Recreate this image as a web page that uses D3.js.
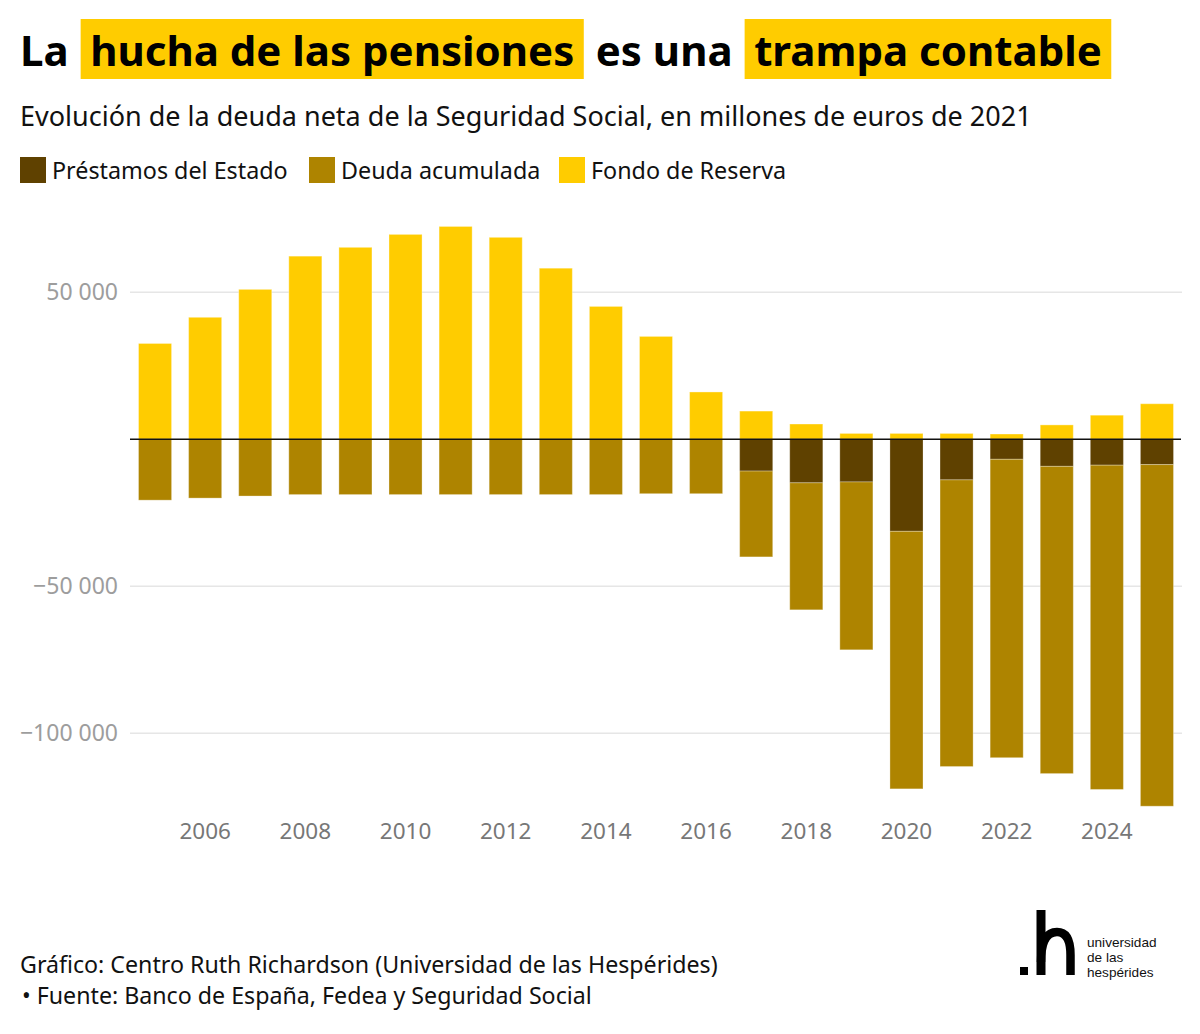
<!DOCTYPE html>
<html>
<head>
<meta charset="utf-8">
<script src="https://cdn.jsdelivr.net/npm/d3@7"></script>
<style>
  html, body { margin: 0; padding: 0; background: #fff; }
  svg { display: block; font-family: "Noto Sans", "Open Sans", sans-serif; }
</style>
</head>
<body>
<svg id="chart" width="1200" height="1034"></svg>
<script>
// ---------- DATA ----------
const years = [2005, 2006, 2007, 2008, 2009, 2010, 2011, 2012, 2013, 2014, 2015,
               2016, 2017, 2018, 2019, 2020, 2021, 2022, 2023, 2024, 2025];
// Fondo de Reserva (positive, millones de euros de 2021)
const fondoReserva = [32600, 41500, 51000, 62300, 65300, 69700, 72400, 68700, 58200, 45200, 35000,
                      16100, 9600, 5200, 2000, 2000, 2000, 1800, 4900, 8200, 12100];
// Préstamos del Estado (negative magnitude)
const prestamosEstado = [0, 0, 0, 0, 0, 0, 0, 0, 0, 0, 0,
                         0, 10800, 14800, 14500, 31300, 13800, 6800, 9200, 8800, 8600];
// Deuda acumulada (negative magnitude)
const deudaAcumulada = [20700, 20000, 19300, 18800, 18800, 18800, 18800, 18800, 18800, 18800, 18500,
                        18500, 29200, 43200, 57100, 87600, 97500, 101500, 104500, 110300, 116200];
const yTicks = [50000, -50000, -100000];
const xTickYears = [2006, 2008, 2010, 2012, 2014, 2016, 2018, 2020, 2022, 2024];
const seriesNames = ["Préstamos del Estado", "Deuda acumulada", "Fondo de Reserva"];
const seriesColors = ["#5f4100", "#ae8400", "#ffcc00"];

// ---------- SETUP ----------
const svg = d3.select("#chart");
const x = d3.scaleBand().domain(years).range([130, 1182]).paddingInner(0.34).paddingOuter(0.17);
const y = d3.scaleLinear().domain([-125000, 80000]).range([806.8, 204.1]);
const fmt = v => (v < 0 ? "\u2212" : "") + d3.format(",")(Math.abs(v)).replace(/,/g, " ");

// ---------- TITLE ----------
const titleParts = [
  {t: "La", hl: false},
  {t: "hucha de las pensiones", hl: true},
  {t: "es una", hl: false},
  {t: "trampa contable", hl: true}
];
const titleG = svg.append("g");
let cx = 20;
const pad = 9.5, gap = 12;
titleParts.forEach((p) => {
  const startX = cx + (p.hl ? pad : 0);
  const rect = p.hl ? titleG.append("rect") : null;
  const txt = titleG.append("text")
    .attr("x", startX).attr("y", 66)
    .attr("font-size", 42).attr("font-weight", 700).attr("fill", "#000")
    .text(p.t);
  const w = txt.node().getComputedTextLength();
  if (p.hl) {
    rect.attr("x", cx).attr("y", 19).attr("width", w + 2 * pad).attr("height", 60).attr("fill", "#ffcc00");
    cx += w + 2 * pad + gap;
  } else {
    cx += w + gap;
  }
});

svg.append("text").attr("x", 20).attr("y", 126)
  .attr("font-size", 27).attr("fill", "#111")
  .text("Evolución de la deuda neta de la Seguridad Social, en millones de euros de 2021");

// ---------- LEGEND ----------
const legendX = [20, 309, 559];
seriesNames.forEach((n, i) => {
  svg.append("rect").attr("x", legendX[i]).attr("y", 157).attr("width", 26).attr("height", 26)
    .attr("fill", seriesColors[i]);
  svg.append("text").attr("x", legendX[i] + 32).attr("y", 178.5)
    .attr("font-size", 23.3).attr("fill", "#111").text(n);
});

// ---------- GRID + Y AXIS ----------
svg.append("g").selectAll("line").data(yTicks).join("line")
  .attr("x1", 130).attr("x2", 1182)
  .attr("y1", d => y(d)).attr("y2", d => y(d))
  .attr("stroke", "#e6e6e6").attr("stroke-width", 1.5);
svg.append("g").selectAll("text").data(yTicks).join("text")
  .attr("x", 118).attr("y", d => y(d)).attr("dy", "0.35em")
  .attr("text-anchor", "end").attr("font-size", 23).attr("fill", "#9d9d9d")
  .text(fmt);

// ---------- BARS ----------
const barsG = svg.append("g");
years.forEach((yr, i) => {
  const bx = x(yr), bw = x.bandwidth();
  // Fondo de Reserva (positive)
  barsG.append("rect").attr("x", bx).attr("width", bw)
    .attr("y", y(fondoReserva[i])).attr("height", y(0) - y(fondoReserva[i]))
    .attr("fill", seriesColors[2]).attr("stroke", "rgba(255,255,255,0.35)").attr("stroke-width", 1);
  // Préstamos del Estado (negative, next to zero)
  const p = prestamosEstado[i];
  if (p > 0) {
    barsG.append("rect").attr("x", bx).attr("width", bw)
      .attr("y", y(0)).attr("height", y(-p) - y(0))
      .attr("fill", seriesColors[0]).attr("stroke", "rgba(255,255,255,0.25)").attr("stroke-width", 1);
  }
  // Deuda acumulada (below préstamos)
  const d = deudaAcumulada[i];
  barsG.append("rect").attr("x", bx).attr("width", bw)
    .attr("y", y(-p)).attr("height", y(-p - d) - y(-p))
    .attr("fill", seriesColors[1]).attr("stroke", "rgba(255,255,255,0.3)").attr("stroke-width", 1);
});

// zero line
svg.append("line").attr("x1", 130).attr("x2", 1181)
  .attr("y1", y(0)).attr("y2", y(0))
  .attr("stroke", "#111").attr("stroke-width", 1.5);

// ---------- X AXIS ----------
svg.append("g").selectAll("text").data(xTickYears).join("text")
  .attr("x", d => x(d) + x.bandwidth() / 2).attr("y", 839)
  .attr("text-anchor", "middle").attr("font-size", 22.5).attr("fill", "#777")
  .text(d => d);

// ---------- FOOTER ----------
svg.append("text").attr("x", 20).attr("y", 973).attr("font-size", 23.2).attr("fill", "#111")
  .text("Gráfico: Centro Ruth Richardson (Universidad de las Hespérides)");
svg.append("text").attr("x", 22).attr("y", 1004).attr("font-size", 23.2).attr("fill", "#111")
  .text("• Fuente: Banco de España, Fedea y Seguridad Social");

// ---------- LOGO ----------
const logo = svg.append("g");
logo.append("rect").attr("x", 1020).attr("y", 967).attr("width", 8).attr("height", 8).attr("fill", "#000");
logo.append("rect").attr("x", 1036.5).attr("y", 910).attr("width", 9).attr("height", 65).attr("fill", "#000");
logo.append("path")
  .attr("d", "M1041,962 Q1041,932 1057,932 Q1070.5,932 1070.5,955 L1070.5,975")
  .attr("fill", "none").attr("stroke", "#000").attr("stroke-width", 8.5);
["universidad", "de las", "hespérides"].forEach((t, i) => {
  logo.append("text").attr("x", 1087).attr("y", 947 + i * 15.2)
    .attr("font-family", "'Liberation Sans', Arial, sans-serif")
    .attr("font-size", 13.6).attr("fill", "#111").text(t);
});
</script>
</body>
</html>
